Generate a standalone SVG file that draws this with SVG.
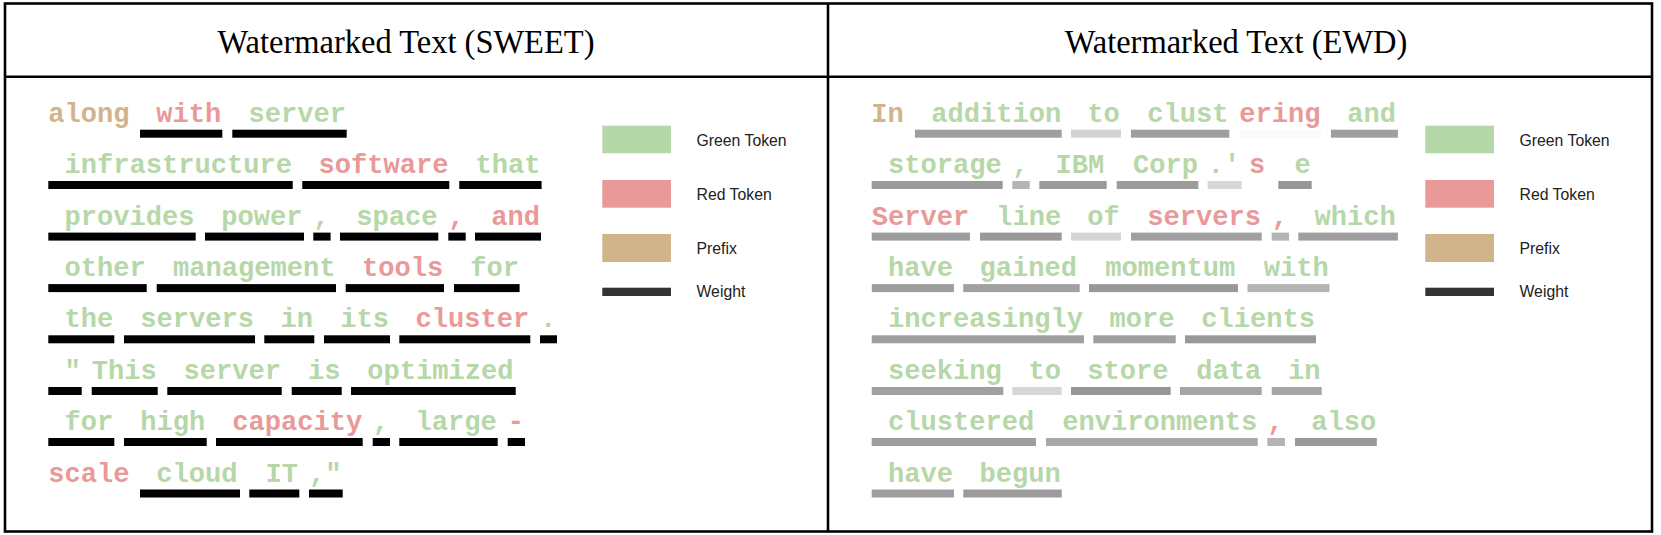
<svg xmlns="http://www.w3.org/2000/svg" width="1661" height="535" viewBox="0 0 1661 535">
<style>
.frame{fill:none;stroke:#000;stroke-width:2.6}
.title{font-family:"Liberation Serif","Times New Roman",serif;font-size:32.5px;fill:#000;text-anchor:middle}
.leg{font-family:"Liberation Sans",Arial,sans-serif;font-size:15.8px;fill:#222}
.t{font-family:"Liberation Mono","Courier New",monospace;font-weight:bold;font-size:27.08px}
.g{fill:#b6d7a8}.r{fill:#ea9999}.p{fill:#d2b48c}
.w{fill:#000}
</style>
<rect id="background" x="0" y="0" width="1661" height="535" fill="#fff"/>
<g id="frame">
<rect class="frame" x="5" y="3.5" width="1647" height="528"/>
<line class="frame" x1="828" y1="3.5" x2="828" y2="531.5"/>
<line class="frame" x1="5" y1="76.7" x2="1652" y2="76.7"/>
</g>
<g id="title-sweet"><text class="title" transform="translate(406,53.3) scale(1,1.06)">Watermarked Text (SWEET)</text></g>
<g id="title-ewd"><text class="title" transform="translate(1236,53.3) scale(1,1.06)">Watermarked Text (EWD)</text></g>

<g id="legend-sweet">
<rect x="602.3" y="125.7" width="68.7" height="27.6" fill="#b6d7a8"/>
<rect x="602.3" y="180" width="68.7" height="27.7" fill="#ea9999"/>
<rect x="602.3" y="234" width="68.7" height="28" fill="#d2b48c"/>
<rect x="602.3" y="287.7" width="68.7" height="8.3" fill="#333"/>
<text class="leg" transform="translate(696.5,145.7) scale(1,1.09)">Green Token</text>
<text class="leg" transform="translate(696.5,200) scale(1,1.09)">Red Token</text>
<text class="leg" transform="translate(696.5,254) scale(1,1.09)">Prefix</text>
<text class="leg" transform="translate(696.5,297) scale(1,1.09)">Weight</text>
</g>
<g id="legend-ewd">
<rect x="1425.3" y="125.7" width="68.7" height="27.6" fill="#b6d7a8"/>
<rect x="1425.3" y="180" width="68.7" height="27.7" fill="#ea9999"/>
<rect x="1425.3" y="234" width="68.7" height="28" fill="#d2b48c"/>
<rect x="1425.3" y="287.7" width="68.7" height="8.3" fill="#333"/>
<text class="leg" transform="translate(1519.5,145.7) scale(1,1.09)">Green Token</text>
<text class="leg" transform="translate(1519.5,200) scale(1,1.09)">Red Token</text>
<text class="leg" transform="translate(1519.5,254) scale(1,1.09)">Prefix</text>
<text class="leg" transform="translate(1519.5,297) scale(1,1.09)">Weight</text>
</g>

<g id="sweet-weights" class="w">
<rect x="140" y="129.7" width="82.3" height="8"/>
<rect x="232.3" y="129.7" width="114.4" height="8"/>
<rect x="48.3" y="181" width="244.4" height="8"/>
<rect x="302.3" y="181" width="147" height="8"/>
<rect x="459.3" y="181" width="82.3" height="8"/>
<rect x="48.3" y="232.6" width="147.4" height="8"/>
<rect x="205" y="232.6" width="99" height="8"/>
<rect x="313.3" y="232.6" width="17.3" height="8"/>
<rect x="340" y="232.6" width="98.3" height="8"/>
<rect x="448.3" y="232.6" width="17.4" height="8"/>
<rect x="475" y="232.6" width="66" height="8"/>
<rect x="48.3" y="284.1" width="98.4" height="8"/>
<rect x="156.7" y="284.1" width="179.3" height="8"/>
<rect x="345.7" y="284.1" width="98.3" height="8"/>
<rect x="454" y="284.1" width="65.6" height="8"/>
<rect x="48.3" y="335.3" width="66" height="8"/>
<rect x="124" y="335.3" width="131" height="8"/>
<rect x="264.3" y="335.3" width="50" height="8"/>
<rect x="324" y="335.3" width="66" height="8"/>
<rect x="399.3" y="335.3" width="131" height="8"/>
<rect x="540" y="335.3" width="17" height="8"/>
<rect x="48.3" y="387" width="33.4" height="8"/>
<rect x="91.7" y="387" width="66" height="8"/>
<rect x="167.3" y="387" width="114.4" height="8"/>
<rect x="291.7" y="387" width="50" height="8"/>
<rect x="351" y="387" width="164.7" height="8"/>
<rect x="48.3" y="438" width="66" height="8"/>
<rect x="124" y="438" width="82.7" height="8"/>
<rect x="216" y="438" width="146.7" height="8"/>
<rect x="372.7" y="438" width="17.3" height="8"/>
<rect x="399.3" y="438" width="98.4" height="8"/>
<rect x="507.7" y="438" width="17.3" height="8"/>
<rect x="140" y="489.5" width="100" height="8"/>
<rect x="249.3" y="489.5" width="50" height="8"/>
<rect x="309" y="489.5" width="33.7" height="8"/>
</g>

<g id="sweet-text" class="t">
<text class="p" x="48.3" y="121.7">along</text>
<text class="r" x="156.25" y="121.7">with</text>
<text class="g" x="248.55" y="121.7">server</text>
<text class="g" x="64.55" y="173">infrastructure</text>
<text class="r" x="318.55" y="173">software</text>
<text class="g" x="475.55" y="173">that</text>
<text class="g" x="64.55" y="224.6">provides</text>
<text class="g" x="221.25" y="224.6">power</text>
<text class="g" x="313.3" y="224.6">,</text>
<text class="g" x="356.25" y="224.6">space</text>
<text class="r" x="448.3" y="224.6">,</text>
<text class="r" x="491.25" y="224.6">and</text>
<text class="g" x="64.55" y="276.1">other</text>
<text class="g" x="172.95" y="276.1">management</text>
<text class="r" x="361.95" y="276.1">tools</text>
<text class="g" x="470.25" y="276.1">for</text>
<text class="g" x="64.55" y="327.3">the</text>
<text class="g" x="140.25" y="327.3">servers</text>
<text class="g" x="280.55" y="327.3">in</text>
<text class="g" x="340.25" y="327.3">its</text>
<text class="r" x="415.55" y="327.3">cluster</text>
<text class="g" x="540" y="327.3">.</text>
<text class="g" x="64.55" y="379">"</text>
<text class="g" x="91.7" y="379">This</text>
<text class="g" x="183.55" y="379">server</text>
<text class="g" x="307.95" y="379">is</text>
<text class="g" x="367.25" y="379">optimized</text>
<text class="g" x="64.55" y="430">for</text>
<text class="g" x="140.25" y="430">high</text>
<text class="r" x="232.25" y="430">capacity</text>
<text class="g" x="372.7" y="430">,</text>
<text class="g" x="415.55" y="430">large</text>
<text class="r" x="507.7" y="430">-</text>
<text class="r" x="48.3" y="481.5">scale</text>
<text class="g" x="156.25" y="481.5">cloud</text>
<text class="g" x="265.55" y="481.5">IT</text>
<text class="g" x="309" y="481.5">,"</text>
</g>

<g id="ewd-weights">
<rect x="915" y="129.7" width="146.7" height="8" fill="#9e9e9e"/>
<rect x="1071" y="129.7" width="50" height="8" fill="#d3d3d3"/>
<rect x="1131" y="129.7" width="98.3" height="8" fill="#9e9e9e"/>
<rect x="1239.3" y="129.7" width="81.7" height="8" fill="#fafafa"/>
<rect x="1331" y="129.7" width="66.9" height="8" fill="#9e9e9e"/>
<rect x="871.7" y="181" width="131" height="8" fill="#9a9a9a"/>
<rect x="1012.3" y="181" width="17.4" height="8" fill="#b4b4b4"/>
<rect x="1039.3" y="181" width="67.4" height="8" fill="#9a9a9a"/>
<rect x="1116.7" y="181" width="81.6" height="8" fill="#9c9c9c"/>
<rect x="1207.7" y="181" width="34" height="8" fill="#d6d6d6"/>
<rect x="1278.3" y="181" width="33.4" height="8" fill="#969696"/>
<rect x="871.7" y="232.6" width="98.3" height="8" fill="#9c9c9c"/>
<rect x="980" y="232.6" width="81.7" height="8" fill="#999"/>
<rect x="1071" y="232.6" width="50" height="8" fill="#d4d4d4"/>
<rect x="1131" y="232.6" width="130.7" height="8" fill="#a0a0a0"/>
<rect x="1271.7" y="232.6" width="17.3" height="8" fill="#b4b4b4"/>
<rect x="1298.3" y="232.6" width="99.6" height="8" fill="#9e9e9e"/>
<rect x="871.8" y="284.1" width="82.1" height="8" fill="#9e9e9e"/>
<rect x="963.2" y="284.1" width="116.5" height="8" fill="#a0a0a0"/>
<rect x="1089" y="284.1" width="149" height="8" fill="#999"/>
<rect x="1247.5" y="284.1" width="82" height="8" fill="#b4b4b4"/>
<rect x="871.7" y="335.3" width="212.3" height="8" fill="#a0a0a0"/>
<rect x="1093.3" y="335.3" width="82.4" height="8" fill="#a0a0a0"/>
<rect x="1185" y="335.3" width="131" height="8" fill="#999"/>
<rect x="871.7" y="387" width="131.6" height="8" fill="#a0a0a0"/>
<rect x="1012.3" y="387" width="49.4" height="8" fill="#d6d6d6"/>
<rect x="1071" y="387" width="99.7" height="8" fill="#969696"/>
<rect x="1180" y="387" width="81.7" height="8" fill="#a5a5a5"/>
<rect x="1271.7" y="387" width="50" height="8" fill="#a5a5a5"/>
<rect x="871.7" y="438" width="164.3" height="8" fill="#9e9e9e"/>
<rect x="1046" y="438" width="211.7" height="8" fill="#a8a8a8"/>
<rect x="1267.3" y="438" width="17.7" height="8" fill="#b4b4b4"/>
<rect x="1295" y="438" width="81.8" height="8" fill="#9a9a9a"/>
<rect x="871.7" y="489.5" width="82.3" height="8" fill="#9e9e9e"/>
<rect x="963.3" y="489.5" width="98.4" height="8" fill="#9c9c9c"/>
</g>

<g id="ewd-text" class="t">
<text class="p" x="871.3" y="121.7">In</text>
<text class="g" x="931.25" y="121.7">addition</text>
<text class="g" x="1087.25" y="121.7">to</text>
<text class="g" x="1147.25" y="121.7">clust</text>
<text class="r" x="1239.3" y="121.7">ering</text>
<text class="g" x="1347.25" y="121.7">and</text>
<text class="g" x="887.95" y="173">storage</text>
<text class="g" x="1012.3" y="173">,</text>
<text class="g" x="1055.55" y="173">IBM</text>
<text class="g" x="1132.95" y="173">Corp</text>
<text class="g" x="1207.7" y="173">.'</text>
<text class="r" x="1249" y="173">s</text>
<text class="g" x="1294.55" y="173">e</text>
<text class="r" x="871.7" y="224.6">Server</text>
<text class="g" x="996.25" y="224.6">line</text>
<text class="g" x="1087.25" y="224.6">of</text>
<text class="r" x="1147.25" y="224.6">servers</text>
<text class="r" x="1271.7" y="224.6">,</text>
<text class="g" x="1314.55" y="224.6">which</text>
<text class="g" x="888.05" y="276.1">have</text>
<text class="g" x="979.45" y="276.1">gained</text>
<text class="g" x="1105.25" y="276.1">momentum</text>
<text class="g" x="1263.75" y="276.1">with</text>
<text class="g" x="887.95" y="327.3">increasingly</text>
<text class="g" x="1109.55" y="327.3">more</text>
<text class="g" x="1201.25" y="327.3">clients</text>
<text class="g" x="887.95" y="379">seeking</text>
<text class="g" x="1028.55" y="379">to</text>
<text class="g" x="1087.25" y="379">store</text>
<text class="g" x="1196.25" y="379">data</text>
<text class="g" x="1287.95" y="379">in</text>
<text class="g" x="887.95" y="430">clustered</text>
<text class="g" x="1062.25" y="430">environments</text>
<text class="r" x="1267.3" y="430">,</text>
<text class="g" x="1311.25" y="430">also</text>
<text class="g" x="887.95" y="481.5">have</text>
<text class="g" x="979.55" y="481.5">begun</text>
</g>
</svg>
